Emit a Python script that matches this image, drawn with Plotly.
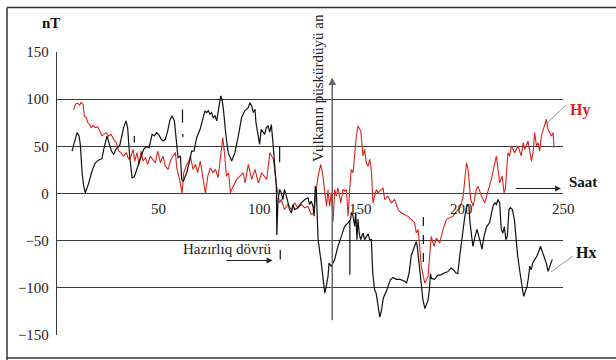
import plotly.graph_objects as go

# ---------------- data ----------------
hy_x = [8.2, 9.1, 10.2, 11.2, 11.9, 12.9, 13.5, 14.5, 15.2, 16.1, 16.8, 17.8, 18.9, 20.1, 21.1, 22.2, 23.1, 24.4,
        25.5, 26.7, 28, 29.3, 30.5, 31.6, 32.9, 34.3, 35.4, 36.6, 37.6, 38.4, 39.5, 40.5, 41.5, 42.5, 43.7, 44.8,
        46.1, 47.4, 48.6, 49.8, 51.1, 52.4, 53.5, 54.9, 56, 57.2, 58.5, 59.3, 60.6, 61.8, 62.6, 63.8, 65.1, 65.9,
        67.2, 68.4, 69.5, 70.8, 72, 73.3, 74.5, 75.8, 77.1, 78.3, 79.6, 80.7, 81.9, 82.9, 83.7, 84.8, 85.7,
        86.3, 87, 88.8, 90.4, 92, 92.9, 94.5, 96.2, 97.8, 99.5, 101.1, 103.6, 105.2, 106.9, 108.5,
        110, 110.8, 112.4, 114.1, 115.8, 117.4, 119, 120.7, 122.4, 124, 125.6, 127, 128.1, 129, 130.3, 131.4,
        132.3, 133.2, 133.9, 134.7, 135.5, 136.4, 137.2, 138, 138.8, 140.2, 141.3, 142.1, 143, 143.8, 144.6,
        145.4, 146.3, 147.1, 147.9, 148.7, 150.1, 151.2, 152, 152.8, 153.7, 154.5, 155.3, 156.1, 157, 157.8,
        158.6, 160.3, 161.1, 161.9, 163.5, 165.2, 166.8, 168.5, 170.1, 171.8, 173.5, 175.1, 176.7, 177.5, 178.4,
        179.2, 180, 181.7, 183.3, 184.1, 184.9, 186.3, 187.4, 189.1, 190.7, 192.4, 194, 195.7, 197.3, 199,
        200.6, 201.4, 202.3, 203.1, 204.4, 205.6, 207.2, 208, 209.7, 211.3, 213, 214.6, 216.3, 217.1, 217.9,
        218.7, 219.9, 220.9, 221.5, 222.8, 223.6, 224.5, 226.1, 227.8, 229.4, 230.3, 231.1, 232.7, 234.4,
        235.2, 236, 236.9, 237.7, 238.5, 239.3, 241, 241.8, 242.6, 243.4, 244.3, 245.1, 245.6]
hy_y = [88.7, 94.7, 95.7, 93.6, 96.5, 94.7, 82.3, 80.5, 75.2, 73.4, 69.9, 72.3, 69.9, 70.9, 66.3, 61, 62.7, 64.5,
        61, 62.7, 57.4, 53.9, 45, 43.3, 39.7, 43.3, 36.2, 39.7, 46.8, 34.4, 43.3, 30.9, 44.9, 34.4, 38, 30.9,
        39.7, 36.2, 32.6, 45, 32.6, 39.7, 29, 25.5, 34.4, 39.7, 43.3, 25.5, 14.9, 0, 22, 29, 34.4, 39.7,
        25.5, 30.9, 22, 34.4, 18.4, 0, 18.4, 27.3, 22, 25.5, 16.7, 39.7, 59.2, 39.7, 18.4, 22, 0.7,
        4.3, 7.8, 14.9, 18.4, 22, 11.3, 30.9, 14.9, 25.5, 11.3, 22, 14.9, 43.3, 36.2, 7.8,
        -9.9, -6.4, -17, -11.7, -17, -9.9, -15.2, -11.7, -15.2, -13.5, -22.3, -20.6, 4.3, 18.4, 31, 18.4,
        0.7, -13.5, 4.3, -13.5, 0.7, -29.4, 4.3, -2.8, 6, -9.9, 4.3, 2.5, 4.3, -24, 4.3,
        25.5, 22, 46.8, 61, 71.6, 66.3, 39.7, 46.8, 32.6, 29, 36.2, 25.5, -9.9, -2.8, 4.3,
        0.7, 4.3, 6, -6.4, -2.8, -9.9, -6.4, -17, -20.6, -22.3, -24.5, -27.7, -31.2, -41.8, -38.3,
        -56, -77.3, -95, -88, -66.7, -45.4, -56, -47.2, -52.5, -38.3, -27.7, -25.9, -24, -18.8, -15.2,
        -4.6, 11.3, 32.6, 25.5, -6.4, -13.5, 4.3, 7.8, -2.8, -9.9, 4.3, 14.9, 32.6, 39.7, 25.5,
        11.3, 18.4, 0.7, 4.3, 43.3, 39.7, 50.3, 43.3, 50.3, 39.7, 53.9, 46.8, 55.7, 34.4,
        43.3, 64.5, 50.3, 53.9, 45, 61, 75.2, 78.7, 68, 64.5, 61, 64.5, 48.5]

hx_x = [7.4, 8.6, 9.9, 10.9, 11.5, 12.4, 13.2, 14, 15.7, 17.3, 18.9, 20.6, 22.2, 23.1, 23.9, 24.7, 25.9, 26.9,
        28, 29.3, 31, 32.1, 32.9, 34.1, 34.9, 35.9, 37.1, 38.2, 39.5, 41.2, 42.8, 44.2, 45.5, 47, 48.1, 49.1,
        50.2, 51.4, 52.4, 53.5, 54.7, 55.7, 56.8, 58, 59, 59.8, 61, 61.6, 62.4, 64.1, 65.7, 66.5, 67.7, 69,
        70.7, 72.3, 73.1, 73.9, 74.8, 75.6, 76.4, 77.2, 78.1, 78.9, 79.7, 80.9, 81.5, 82.2, 83.5, 84.6, 86.3,
        87.9, 89.6, 91.2, 92.8, 93.7, 94.5, 95.3, 96.2, 97, 97.8, 98.3, 99.3, 100.1, 100.9, 102.6, 103.4,
        104.3, 105.1, 105.9, 106.7, 107.5, 108.4, 108.6, 108.9, 109.2, 110, 110.8, 111.6, 112.4, 113.8, 114.9,
        115.8, 116.6, 117.4, 119, 120.7, 122.4, 124, 124.8, 125.6, 126.5, 127, 127.6, 128.1, 129, 130.6,
        131.4, 132.3, 133, 133.9, 134.4, 135.5, 137.2, 138.8, 140.5, 142.1, 143.8, 145, 145.5, 146.3, 147.1,
        147.6, 148.2, 148.7, 149.3, 150, 151.2, 152, 152.8, 153.7, 154.5, 155.3, 156, 156.9, 157.7, 158.5,
        159.5, 160.3, 161.2, 163, 164.7, 166, 167.7, 169.5, 171.8, 172.7, 174, 175, 176, 177.5, 178, 179,
        180, 180.8, 181.8, 183.3, 184, 184.5, 185, 186.6, 188, 189.9, 191.5, 193, 194.8, 196, 197, 198, 199,
        200, 200.6, 201.5, 202.7, 203.5, 204, 205, 205.5, 206.5, 207.5, 208, 209, 210, 211, 212.3, 213.7,
        214.5, 215.4, 216.3, 217.1, 217.9, 218.7, 219.5, 220.3, 221, 221.8, 222.5, 223.3, 224, 225, 226,
        226.9, 227.6, 228.5, 228.9, 229.4, 230, 230.6, 231.5, 232.3, 233, 233.6, 234.3, 235, 236, 237, 237.7,
        238.9, 240, 241, 241.8, 242.6, 243.4, 244.7]
hx_y = [45, 53.9, 64.5, 61, 52.1, 22, 7.8, 0.7, 11.3, 23.8, 32.6, 35.5, 36.9, 46.8, 55.7, 61, 52.1, 45,
        41.5, 47.5, 51, 61, 69.8, 77, 69.8, 39.7, 16.6, 17.7, 25.5, 35.5, 46.8, 49.6, 48.5, 62.7, 61, 64.5,
        62.7, 58, 55.7, 57.4, 66.3, 77, 82.3, 77, 52.1, 37.9, 39.7, 14.9, 13.1, 22, 36.2, 45, 45, 59.2,
        68, 82.3, 87.6, 85.8, 87.6, 84, 85.8, 80.5, 82.3, 77, 87.6, 103.5, 100, 89.4, 61, 43.3, 34.4,
        43.3, 61, 80.5, 87.6, 89.4, 91.1, 96.4, 92.9, 85.8, 89.4, 75.2, 64.5, 52, 68, 62.7, 69.9,
        71.6, 65, 73, 53.9, 32.6, 6, -44, -10, -6.4, 4.3, 0.7, -6.4, 4.3, -6.4, -17,
        -20.6, -11.7, -17, -15.2, -9.9, -6.4, -4.6, -11.7, -8.2, -13.5, -24, 7.8, 4.3, -49, -73.8,
        -88, -105.6, -98.6, -88, -73.8, -77.3, -70, -56, -45.4, -34.8, -31.2, -27.7, -20, -24, -35,
        -20, -49, -27, -42, -49, -42, -49, -46, -42.7, -49, -49, -84, -102, -106, -116,
        -131, -124, -111, -102, -91.5, -89, -91, -91, -93, -95, -84, -66, -59, -51, -56, -79,
        -102, -113, -122, -113, -102, -85, -90, -91, -87, -86, -84, -83, -79, -81, -84, -85, -66,
        -49, -38, -24, -11.7, -13, -30, -52, -56, -46, -38, -42, -52, -59, -45, -35, -31,
        -24, -13.5, -10, -11.7, -6.4, -10, -38, -42, -35, -49, -45, -17, -15, -17, -28,
        -52.5, -66, -80, -87, -95, -102, -109, -102, -98, -88, -77, -81, -74, -70, -67, -63,
        -56, -63, -70, -74, -82.6, -77, -70]

# detached short pieces of the Hx record (None separates pieces)
hx_piece_x = [38.2, 38.2, None, 62, 62, None, 62.2, 62.2, None, 110, 110, None, 110.3, 110.3, None, 144.7, 144.7]
hx_piece_y = [54, 61, None, 75, 89, None, 60, 63, None, 33, 50, None, -60, -70, None, -28, -86]
hx_dash_x = [181, 181]
hx_dash_y = [-25, -75]

ytick_vals = [-150, -100, -50, 0, 50, 100, 150]
xtick_vals = [50, 100, 150, 200, 250]
xtick_text = ["50", "100", "150", "200", "250"]

RED = "#d8251d"
BLACK = "#111111"
FONT = "Liberation Serif"

# plot area in pixels: x 57..563, y 52..335
PL, PW, PT, PH = 57, 506, 52, 283


def px(x):
    return (x - PL) / PW


def py(y):
    return (PT + PH - y) / PH


fig = go.Figure()
fig.add_trace(go.Scatter(x=hy_x, y=hy_y, mode="lines", line=dict(color=RED, width=1.1), name="Hy"))
fig.add_trace(go.Scatter(x=hx_x, y=hx_y, mode="lines", line=dict(color=BLACK, width=1.2), name="Hx"))
fig.add_trace(go.Scatter(x=hx_piece_x, y=hx_piece_y, mode="lines", line=dict(color=BLACK, width=1.2),
                         connectgaps=False))
fig.add_trace(go.Scatter(x=hx_dash_x, y=hx_dash_y, mode="lines", line=dict(color=BLACK, width=1.2, dash="dash")))

# x tick labels sit on the zero line
for v, t in zip(xtick_vals, xtick_text):
    fig.add_annotation(x=v, y=0, text=t, showarrow=False, yshift=-15, xanchor="center",
                       font=dict(family=FONT, size=15, color="#222"))

# eruption arrow
fig.add_annotation(x=136, y=123, ax=136, ay=-136, xref="x", yref="y", axref="x", ayref="y",
                   showarrow=True, arrowhead=2, arrowsize=1, arrowwidth=1.5, arrowcolor="#666", text="")
fig.add_annotation(x=129, y=112, text="Vulkanın püskürdüyü an", textangle=-90, showarrow=False,
                   xanchor="center", font=dict(family=FONT, size=15, color="#222"))
# preparation period
fig.add_annotation(x=84.2, y=-58.5, text="Hazırlıq dövrü", showarrow=False, xanchor="center",
                   font=dict(family=FONT, size=15, color="#222"))
fig.add_annotation(x=106.5, y=-71, ax=83, ay=-71, xref="x", yref="y", axref="x", ayref="y",
                   showarrow=True, arrowhead=2, arrowsize=1, arrowwidth=1.2, arrowcolor="#222", text="")
# time arrow
fig.add_annotation(x=249, y=5.3, ax=226, ay=5.3, xref="x", yref="y", axref="x", ayref="y",
                   showarrow=True, arrowhead=2, arrowsize=1, arrowwidth=1.2, arrowcolor="#222", text="")
fig.add_annotation(x=px(583), y=py(182), xref="paper", yref="paper", text="<b>Saat</b>", showarrow=False,
                   xanchor="center", yanchor="middle", font=dict(family=FONT, size=15, color="#111"))
# series labels with leader lines
fig.add_annotation(x=px(580), y=py(110), xref="paper", yref="paper", text="<b>Hy</b>", showarrow=False,
                   xanchor="center", yanchor="middle", font=dict(family=FONT, size=16, color=RED))
fig.add_annotation(x=px(586), y=py(253), xref="paper", yref="paper", text="<b>Hx</b>", showarrow=False,
                   xanchor="center", yanchor="middle", font=dict(family=FONT, size=16, color="#111"))
fig.add_shape(type="line", xref="paper", yref="paper", x0=px(545), y0=py(125), x1=px(566), y1=py(105),
              line=dict(color="#777", width=0.8))
fig.add_shape(type="line", xref="paper", yref="paper", x0=px(551), y0=py(272), x1=px(573), y1=py(256),
              line=dict(color="#777", width=0.8))
fig.add_annotation(x=px(51), y=py(23), xref="paper", yref="paper", text="<b>nT</b>", showarrow=False,
                   xanchor="center", yanchor="middle", font=dict(family=FONT, size=15, color="#111"))

# outer frame
for (a, b, c, d) in [(7, 7.5, 620, 7.5), (7, 7.5, 7, 365), (7, 358, 620, 358)]:
    fig.add_shape(type="line", xref="paper", yref="paper", x0=px(a), y0=py(b), x1=px(c), y1=py(d),
                  line=dict(color="#333", width=1.5))

fig.update_layout(
    width=616, height=360,
    margin=dict(l=PL, r=616 - PL - PW, t=PT, b=360 - PT - PH),
    paper_bgcolor="white", plot_bgcolor="white",
    showlegend=False,
    font=dict(family=FONT, size=15, color="#222"),
    xaxis=dict(range=[0, 250], showgrid=False, zeroline=False, showticklabels=False, showline=False,
               fixedrange=True),
    yaxis=dict(range=[-150, 150], tickvals=ytick_vals, showgrid=True, gridcolor="#3a3a3a", gridwidth=1.3,
               zeroline=True, zerolinecolor="#3a3a3a", zerolinewidth=1.3,
               showline=True, linecolor="#3a3a3a", linewidth=1.3, ticks="", ticklabelstandoff=4,
               tickfont=dict(family=FONT, size=15, color="#222"), fixedrange=True),
)

fig.write_html("out.html", config={"displayModeBar": False},
               post_script="document.body.style.margin='0';document.body.style.overflow='hidden';")
